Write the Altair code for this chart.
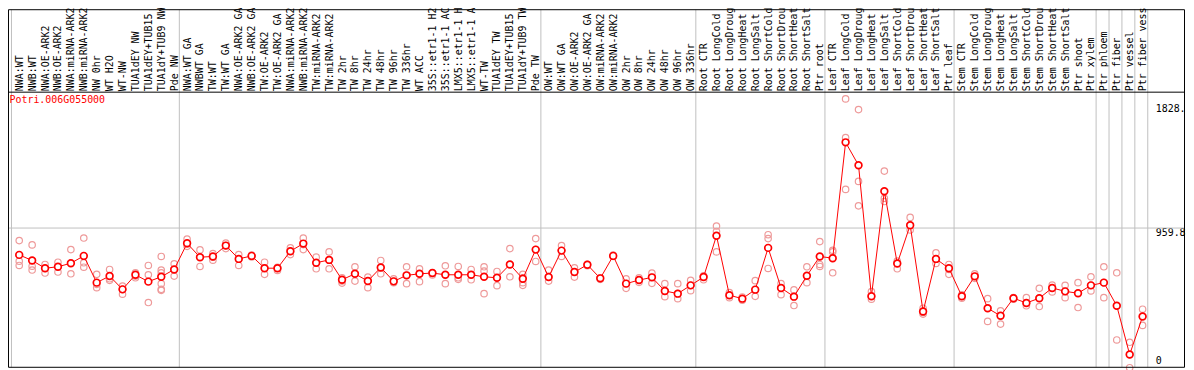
import json
import altair as alt
import pandas as pd

categories = [
    "NWA:WT", "NWB:WT", "NWA:OE-ARK2", "NWB:OE-ARK2", "NWA:miRNA-ARK2", "NWB:miRNA-ARK2",
    "NW 0hr", "WT H2O", "WT-NW", "TUA1dEY NW", "TUA1dEY+TUB15", "TUA1dY+TUB9 NW", "Pde NW",
    "NWA:WT GA", "NWBWT GA", "TW:WT", "TW:WT GA", "NWA:OE-ARK2 GA", "NWB:OE-ARK2 GA",
    "TW:OE-ARK2", "TW:OE-ARK2 GA", "NWA:miRNA-ARK2", "NWB:miRNA-ARK2", "TW:miRNA-ARK2",
    "TW:miRNA-ARK2", "TW 2hr", "TW 8hr", "TW 24hr", "TW 48hr", "TW 96hr", "TW 336hr",
    "WT ACC", "35S::etr1-1 H2", "35S::etr1-1 AC", "LMX5::etr1-1 H", "LMX5::etr1-1 A",
    "WT-TW", "TUA1dEY TW", "TUA1dEY+TUB15", "TUA1dY+TUB9 TW", "Pde TW",
    "OW:WT", "OW:WT GA", "OW:OE-ARK2", "OW:OE-ARK2 GA", "OW:miRNA-ARK2", "OW:miRNA-ARK2",
    "OW 2hr", "OW 8hr", "OW 24hr", "OW 48hr", "OW 96hr", "OW 336hr",
    "Root CTR", "Root LongCold", "Root LongDroug", "Root LongHeat", "Root LongSalt",
    "Root ShortCold", "Root ShortDrou", "Root ShortHeat", "Root ShortSalt", "Ptr root",
    "Leaf CTR", "Leaf LongCold", "Leaf LongDroug", "Leaf LongHeat", "Leaf LongSalt",
    "Leaf ShortCold", "Leaf ShortDrou", "Leaf ShortHeat", "Leaf ShortSalt", "Ptr leaf",
    "Stem CTR", "Stem LongCold", "Stem LongDroug", "Stem LongHeat", "Stem LongSalt",
    "Stem ShortCold", "Stem ShortDrou", "Stem ShortHeat", "Stem ShortSalt",
    "Ptr shoot", "Ptr xylem", "Ptr phloem", "Ptr fiber", "Ptr vessel", "Ptr fiber vess",
]

means = [
    772, 733, 679, 689, 714, 765, 578, 624, 531, 633,
    585, 619, 670, 853, 756, 761, 837, 744, 765, 679,
    679, 798, 851, 717, 737, 598, 640, 589, 684, 587,
    629, 640, 645, 633, 633, 633, 619, 612, 705, 605,
    809, 617, 802, 652, 703, 608, 765, 571, 596, 615,
    520, 501, 559, 617, 906, 490, 466, 529, 821, 541,
    480, 626, 761, 749, 1559, 1399, 483, 1217, 712, 980,
    376, 744, 679, 483, 622, 399, 346, 469, 436, 469,
    541, 517, 504, 559, 578, 416, 75, 341,
]

replicates = [
    [872, 728, 698], [842, 693, 666], [705, 677, 645], [721, 689, 652], [809, 714, 640],
    [890, 717, 686], [636, 566, 543], [670, 605, 594], [554, 531, 497], [647, 624, 612],
    [698, 633, 439], [761, 666, 647, 571, 531, 524], [710, 670, 624], [883, 848, 832],
    [807, 756, 691], [781, 756, 735], [855, 837, 816], [774, 744, 698], [770, 765, 758],
    [721, 679, 636], [686, 677, 663], [821, 798, 774], [890, 844, 809], [756, 717, 675],
    [793, 737, 675], [612, 589, 575], [689, 640, 589], [617, 589, 543], [733, 684, 640],
    [605, 587, 578], [689, 629, 571], [675, 640, 585], [647, 642, 631], [696, 633, 571],
    [691, 612, 601], [670, 633, 598], [689, 659, 501], [656, 612, 557], [816, 705, 619],
    [636, 612, 578, 559], [886, 809, 726], [666, 617, 589], [837, 802, 761], [682, 652, 617],
    [707, 703, 696], [612, 605, 601], [770, 765, 761], [605, 571, 538], [612, 596, 580],
    [645, 615, 573], [571, 520, 480], [571, 501, 466], [594, 559, 522], [626, 617, 598],
    [974, 936, 906, 793], [508, 490, 473], [478, 466, 455], [592, 529, 482], [913, 886, 677],
    [571, 541, 494], [527, 480, 418], [689, 624, 578], [865, 705, 691], [804, 793, 647],
    [1863, 1592, 1230], [1788, 1286, 1115], [515, 483, 462], [1358, 1168, 1145],
    [728, 712, 675], [1034, 980, 946], [399, 369, 358], [786, 744, 712], [705, 670, 636],
    [492, 483, 469], [640, 622, 608], [466, 399, 307], [381, 346, 288], [473, 469, 462],
    [473, 436, 416], [538, 469, 411], [561, 541, 513], [559, 517, 473], [578, 504, 404],
    [619, 559, 520], [689, 578, 473], [647, 416, 177], [161, 75, -17], [392, 341, 279],
]

group_boundaries = [-0.6, 12.4, 40.4, 52.4, 62.4, 72.4, 83.4, 84.4, 85.4, 86.4, 87.4]
hgrid_values = [959.8]
y_tick_values = [0, 959.8, 1828]
y_tick_labels = ["0", "959.8", "1828."]
gene_name = "Potri.006G055000"

# ---- layout ----
W, H = 1184, 277
PAD_TOP = 84
MONO = "DejaVu Sans Mono"
RED = "#ff0000"
PINK = "#ee9a9a"
GRID = "#c0c0c0"

x_scale = alt.Scale(domain=[-0.7923, 90.285], nice=False, zero=False)
y_scale = alt.Scale(domain=[-17.4, 1906.5], nice=False, zero=False)

df_mean = pd.DataFrame({"i": list(range(len(categories))), "name": categories, "value": means})
df_rep = pd.DataFrame(
    [{"i": i, "value": v} for i, reps in enumerate(replicates) for v in reps]
)
df_bounds = pd.DataFrame({"i": group_boundaries})
df_hgrid = pd.DataFrame({"value": hgrid_values})

x_label_expr = json.dumps(categories) + "[datum.value]"
y_label_expr = " : ".join(
    f"datum.value == {v} ? '{t}'" for v, t in zip(y_tick_values, y_tick_labels)
) + " : ''"

x_axis = alt.Axis(
    orient="top", values=list(range(len(categories))), labelExpr=x_label_expr,
    labelAngle=270, labelAlign="left", labelBaseline="middle", labelPadding=2,
    labelFont=MONO, labelFontSize=10, labelColor="black", labelLimit=200,
    labelOverlap=False, labelFlush=False, labelBound=False,
    domain=False, ticks=False, tickSize=0, grid=False, title=None,
)
y_axis = alt.Axis(
    orient="right", values=y_tick_values, labelExpr=y_label_expr,
    labelAlign="left",
    labelBaseline={"condition": {"test": "datum.value == 0", "value": "bottom"}, "value": "top"},
    labelPadding=-30, labelFont=MONO, labelFontSize=10, labelColor="black",
    labelOverlap=False, labelFlush=False, labelBound=False,
    domain=False, ticks=False, tickSize=0, grid=False, title=None,
)

X = alt.X("i:Q", scale=x_scale, axis=x_axis)
Y = alt.Y("value:Q", scale=y_scale, axis=y_axis)

vgrid = alt.Chart(df_bounds).mark_rule(color=GRID, strokeWidth=1).encode(
    x=X,
    y=alt.value(-PAD_TOP + 0.5),
    y2=alt.value(H - 0.5),
)

hgrid = alt.Chart(df_hgrid).mark_rule(color=GRID, strokeWidth=1).encode(
    y=Y,
    x=alt.value(0),
    x2=alt.value(W),
)

frame = alt.Chart(alt.Data(values=[{"f": 1}])).mark_rect(
    fillOpacity=0, stroke="black", strokeWidth=1
).encode(
    x=alt.value(-0.5), x2=alt.value(W - 0.5),
    y=alt.value(-PAD_TOP + 0.5), y2=alt.value(H - 0.5),
)
divider = alt.Chart(alt.Data(values=[{"f": 1}])).mark_rule(color="black", strokeWidth=1).encode(
    x=alt.value(-0.5), x2=alt.value(W - 0.5), y=alt.value(-0.5),
)

reps = alt.Chart(df_rep).mark_point(
    shape="circle", filled=False, color=PINK, strokeWidth=1.2, size=42, opacity=1
).encode(x=X, y=Y)

line = alt.Chart(df_mean).mark_line(color=RED, strokeWidth=1).encode(x=X, y=Y)

mean_pts = alt.Chart(df_mean).mark_point(
    shape="circle", filled=True, fill="white", stroke=RED, strokeWidth=1.7, size=46, opacity=1
).encode(x=X, y=Y)

gene = alt.Chart(alt.Data(values=[{"label": gene_name}])).mark_text(
    align="left", baseline="alphabetic", font=MONO, fontSize=10, color=RED
).encode(
    text="label:N", x=alt.value(0.5), y=alt.value(10),
)

chart = alt.layer(vgrid, hgrid, reps, line, mean_pts, frame, divider, gene).properties(
    width=W, height=H,
    padding={"left": 1, "top": PAD_TOP, "right": 1, "bottom": 1},
    autosize=alt.AutoSizeParams(type="none"),
    background="white",
).configure_view(strokeWidth=0)

chart.save("out.html", embed_options={"renderer": "svg", "actions": False})
